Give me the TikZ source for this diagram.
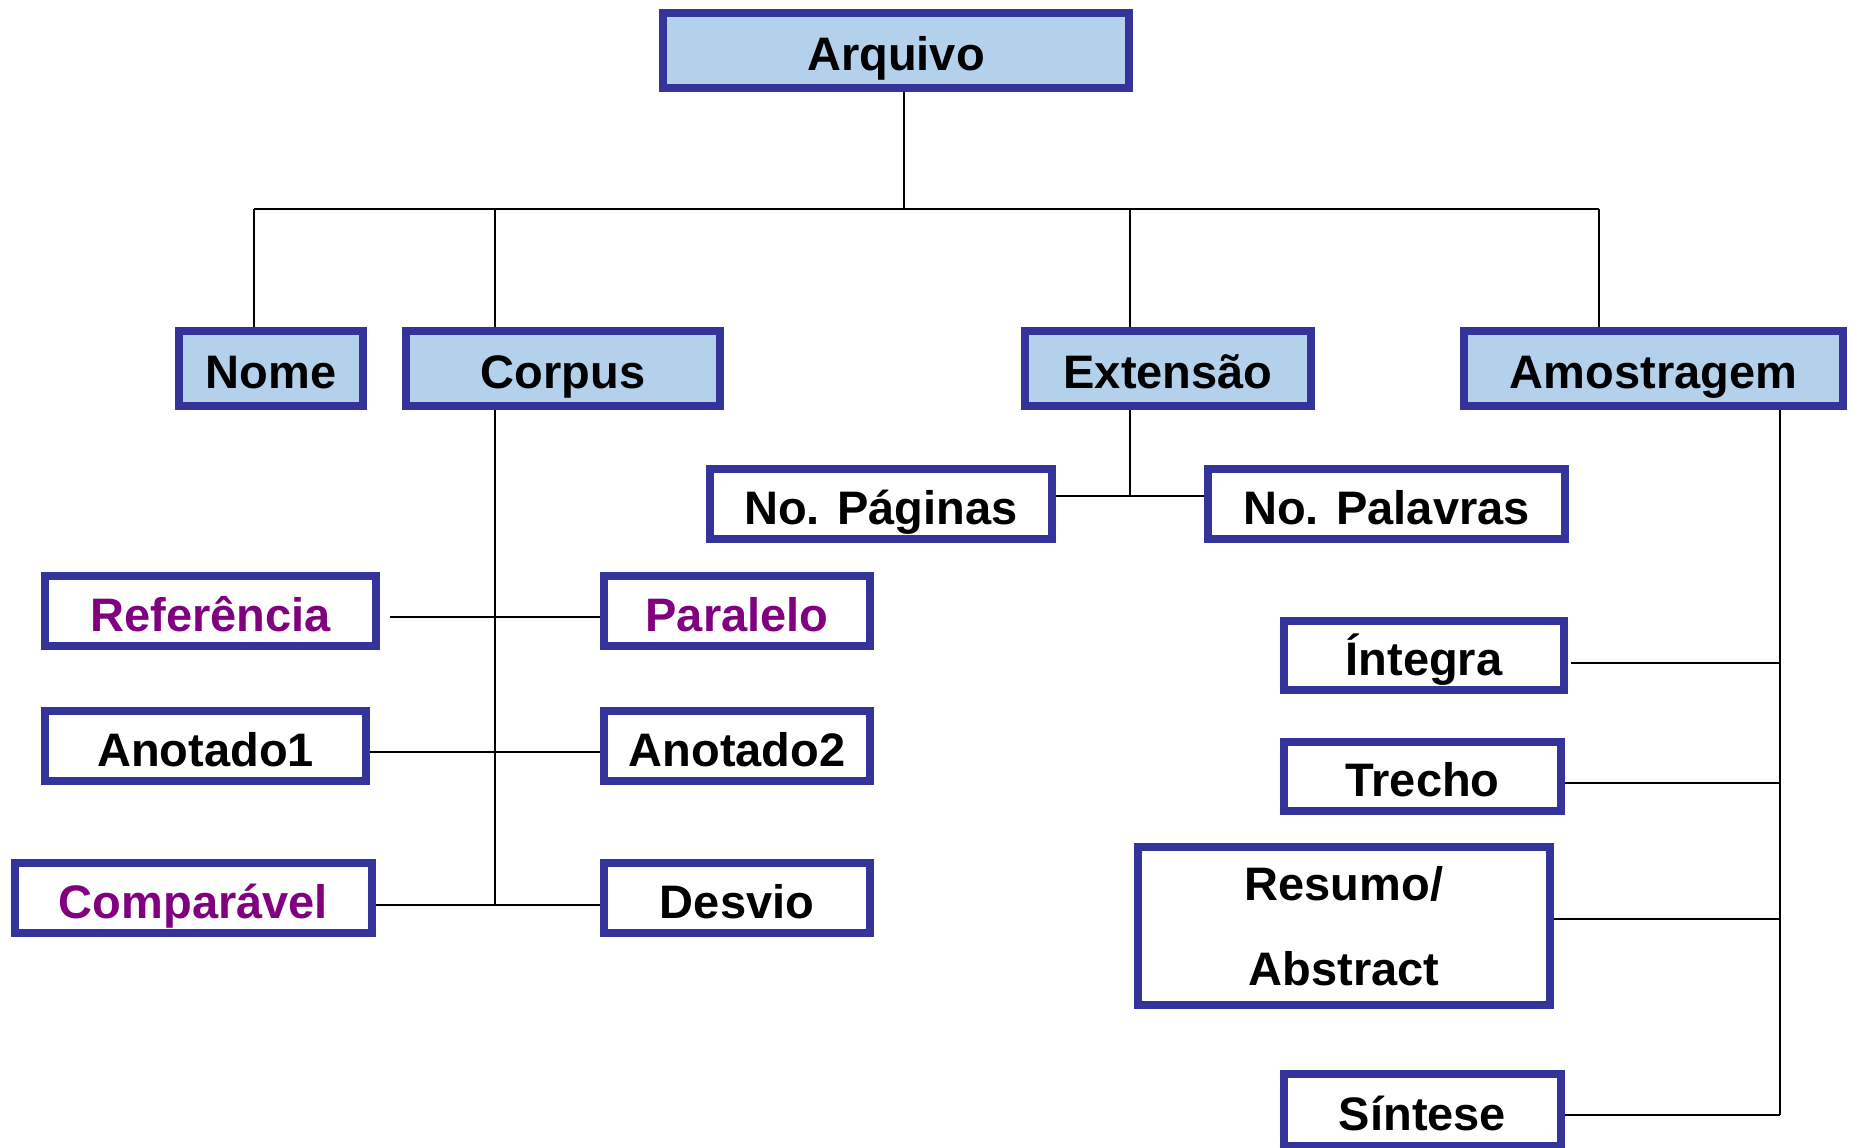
\documentclass[tikz,border=0pt]{standalone}
\usepackage{fontspec}
\setmainfont{Liberation Sans}
\definecolor{navy}{RGB}{51,51,153}
\definecolor{lblue}{RGB}{180,209,235}
\definecolor{purp}{RGB}{128,0,128}
\begin{document}
\begin{tikzpicture}[x=1pt,y=-1pt,
  box/.style={draw=navy,line width=8pt,inner sep=0pt,minimum height=75pt,
    text height=40pt,text depth=0pt,font=\fontsize{47}{85}\selectfont\bfseries},
  head/.style={box,fill=lblue},
  leaf/.style={box,fill=white,minimum height=70pt},
  conn/.style={draw=black,line width=2pt}]
\useasboundingbox (0,0) rectangle (1852,1148);
% level 0/1
\node[head,minimum width=466pt] (arq) at (896,50.5) {Arquivo};
\node[head,minimum width=184pt] (nome) at (271,368.5) {Nome};
\node[head,minimum width=314pt] (corpus) at (563,368.5) {Corpus};
\node[head,minimum width=286pt] (ext) at (1168,368.5) {Extensão};
\node[head,minimum width=379pt] (amos) at (1653.5,368.5) {Amostragem};
% Extensão children
\node[leaf,minimum width=342pt] (pag) at (881,504) {No. Páginas};
\node[leaf,minimum width=357pt] (pal) at (1386.5,504) {No. Palavras};
% Corpus children
\node[leaf,minimum width=331pt,text=purp] (ref) at (210.5,611) {Referência};
\node[leaf,minimum width=266pt,text=purp] (par) at (737,611) {Paralelo};
\node[leaf,minimum width=321pt] (an1) at (205.5,746) {Anotado1};
\node[leaf,minimum width=266pt] (an2) at (737,746) {Anotado2};
\node[leaf,minimum width=357pt,text=purp] (comp) at (193.5,898) {Comparável};
\node[leaf,minimum width=266pt] (desv) at (737,898) {Desvio};
% Amostragem children
\node[leaf,minimum width=280pt,minimum height=69pt] (int) at (1424,655.5) {Íntegra};
\node[leaf,minimum width=277pt,minimum height=69pt] (tre) at (1422.5,776.5) {Trecho};
\node[leaf,minimum width=412pt,minimum height=158pt,text height=,text depth=,align=center] (res) at (1344,926) {Resumo/\\Abstract};
\node[leaf,minimum width=277pt,minimum height=72pt] (sin) at (1422.5,1110) {Síntese};
% junction coordinates
\coordinate (bus) at (904,209);
\coordinate (jnome) at (254,209);
\coordinate (jcorp) at (495,209);
\coordinate (jext) at (1130,209);
\coordinate (jamos) at (1599,209);
\coordinate (ce) at (1130,496);
\coordinate (c1) at (495,617);
\coordinate (c2) at (495,752);
\coordinate (c3) at (495,905);
\coordinate (a1) at (1780,663);
\coordinate (a2) at (1780,783);
\coordinate (a3) at (1780,919);
\coordinate (a4) at (1780,1115);
% connectors
\draw[conn] (arq.south -| bus) -- (bus);
\draw[conn] (jnome) -- (jamos);
\draw[conn] (jnome) -- (jnome |- nome.north);
\draw[conn] (jcorp) -- (jcorp |- corpus.north);
\draw[conn] (jext) -- (jext |- ext.north);
\draw[conn] (jamos) -- (jamos |- amos.north);
\draw[conn] (ce |- ext.south) -- (ce);
\draw[conn] (pag.east |- ce) -- (pal.west |- ce);
\draw[conn] (c1 |- corpus.south) -- (c3);
\draw[conn] ([xshift=10pt]ref.east |- c1) -- (par.west |- c1);
\draw[conn] (an1.east |- c2) -- (an2.west |- c2);
\draw[conn] (comp.east |- c3) -- (desv.west |- c3);
\draw[conn] (a1 |- amos.south) -- (a4);
\draw[conn] ([xshift=3pt]int.east |- a1) -- (a1);
\draw[conn] (tre.east |- a2) -- (a2);
\draw[conn] (res.east |- a3) -- (a3);
\draw[conn] (sin.east |- a4) -- (a4);
\end{tikzpicture}
\end{document}
